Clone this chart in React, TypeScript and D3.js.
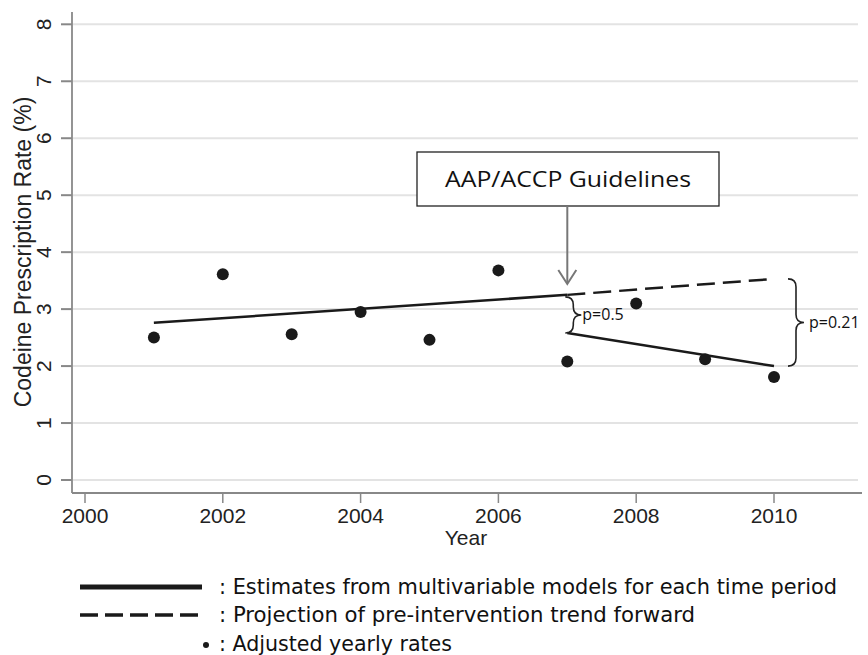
import React, { useEffect, useRef } from "react";
import * as d3 from "d3";

const years = [2001, 2002, 2003, 2004, 2005, 2006, 2007, 2008, 2009, 2010];
const yearlyRates = [2.5, 3.61, 2.56, 2.95, 2.46, 3.68, 2.08, 3.1, 2.12, 1.81];

// fitted segments: [year, rate]
const preTrend: [number, number][] = [
  [2001, 2.76],
  [2007, 3.25],
];
const projection: [number, number][] = [
  [2007, 3.25],
  [2010, 3.53],
];
const postTrend: [number, number][] = [
  [2007, 2.58],
  [2010, 2.0],
];

const xTicks = [2000, 2002, 2004, 2006, 2008, 2010];
const yTicks = [0, 1, 2, 3, 4, 5, 6, 7, 8];

const legendItems = [
  ": Estimates from multivariable models for each time period",
  ": Projection of pre-intervention trend forward",
  ": Adjusted yearly rates",
];
const legendWidths = [618, 476, 233];

const W = 868;
const H = 655;

const App: React.FC = () => {
  const ref = useRef<SVGSVGElement>(null);

  useEffect(() => {
    if (!ref.current) return;
    const svg = d3.select(ref.current);
    svg.selectAll("*").remove();

    const x = d3.scaleLinear().domain([2000, 2010]).range([85, 774]);
    const y = d3.scaleLinear().domain([0, 8]).range([480, 24.3]);
    const axisFont = "'Liberation Sans', Arial, sans-serif";
    const noteFont = "'Open Sans', 'Noto Sans', sans-serif";
    const legendFont = "'Liberation Sans Narrow', 'DejaVu Sans Condensed', sans-serif";

    svg.append("rect").attr("width", W).attr("height", H).attr("fill", "#fff");

    // gridlines
    svg
      .append("g")
      .selectAll("line")
      .data(yTicks)
      .enter()
      .append("line")
      .attr("x1", 73)
      .attr("x2", 858)
      .attr("y1", (d) => y(d))
      .attr("y2", (d) => y(d))
      .attr("stroke", "#e3e3e3")
      .attr("stroke-width", 2);

    // axes
    svg
      .append("line")
      .attr("x1", 72)
      .attr("x2", 72)
      .attr("y1", 12)
      .attr("y2", 493)
      .attr("stroke", "#888")
      .attr("stroke-width", 1.8);
    svg
      .append("line")
      .attr("x1", 72)
      .attr("x2", 862)
      .attr("y1", 493)
      .attr("y2", 493)
      .attr("stroke", "#888")
      .attr("stroke-width", 1.8);

    const yt = svg.append("g");
    yt.selectAll("line")
      .data(yTicks)
      .enter()
      .append("line")
      .attr("x1", 61)
      .attr("x2", 72)
      .attr("y1", (d) => y(d))
      .attr("y2", (d) => y(d))
      .attr("stroke", "#888")
      .attr("stroke-width", 2);
    yt.selectAll("text")
      .data(yTicks)
      .enter()
      .append("text")
      .attr("transform", (d) => `translate(51,${y(d)}) rotate(-90)`)
      .attr("text-anchor", "middle")
      .attr("font-family", axisFont)
      .attr("font-size", 21)
      .attr("fill", "#222")
      .text((d) => d);

    const xt = svg.append("g");
    xt.selectAll("line")
      .data(xTicks)
      .enter()
      .append("line")
      .attr("x1", (d) => x(d))
      .attr("x2", (d) => x(d))
      .attr("y1", 493)
      .attr("y2", 503)
      .attr("stroke", "#888")
      .attr("stroke-width", 1.5);
    xt.selectAll("text")
      .data(xTicks)
      .enter()
      .append("text")
      .attr("x", (d) => x(d))
      .attr("y", 523)
      .attr("text-anchor", "middle")
      .attr("font-family", axisFont)
      .attr("font-size", 21)
      .attr("fill", "#222")
      .text((d) => d);

    svg
      .append("text")
      .attr("x", 466)
      .attr("y", 545)
      .attr("text-anchor", "middle")
      .attr("font-family", axisFont)
      .attr("font-size", 21)
      .attr("fill", "#222")
      .text("Year");
    svg
      .append("text")
      .attr("transform", "translate(31,252) rotate(-90)")
      .attr("text-anchor", "middle")
      .attr("font-family", axisFont)
      .attr("font-size", 23)
      .attr("fill", "#222")
      .text("Codeine Prescription Rate (%)");

    // fitted lines
    const line = d3
      .line<[number, number]>()
      .x((d) => x(d[0]))
      .y((d) => y(d[1]));
    svg
      .append("path")
      .attr("d", line(preTrend))
      .attr("fill", "none")
      .attr("stroke", "#1a1a1a")
      .attr("stroke-width", 2.5);
    svg
      .append("path")
      .attr("d", line(projection))
      .attr("fill", "none")
      .attr("stroke", "#1a1a1a")
      .attr("stroke-width", 2.5)
      .attr("stroke-dasharray", "18,8");
    svg
      .append("path")
      .attr("d", line(postTrend))
      .attr("fill", "none")
      .attr("stroke", "#1a1a1a")
      .attr("stroke-width", 2.5);

    // yearly dots
    svg
      .append("g")
      .selectAll("circle")
      .data(years)
      .enter()
      .append("circle")
      .attr("cx", (d) => x(d))
      .attr("cy", (_, i) => y(yearlyRates[i]))
      .attr("r", 6)
      .attr("fill", "#1a1a1a");

    // annotation box and arrow
    const ax = x(2007);
    svg
      .append("rect")
      .attr("x", 417)
      .attr("y", 152)
      .attr("width", 302)
      .attr("height", 54)
      .attr("fill", "#fff")
      .attr("stroke", "#222")
      .attr("stroke-width", 1.3);
    svg
      .append("text")
      .attr("x", 445)
      .attr("y", 187)
      .attr("font-family", noteFont)
      .attr("font-size", 22)
      .attr("fill", "#111")
      .attr("textLength", 246)
      .attr("lengthAdjust", "spacingAndGlyphs")
      .text("AAP/ACCP Guidelines");
    svg
      .append("line")
      .attr("x1", ax)
      .attr("x2", ax)
      .attr("y1", 206)
      .attr("y2", 283)
      .attr("stroke", "#777")
      .attr("stroke-width", 2);
    svg
      .append("path")
      .attr("d", `M${ax - 9},${270} L${ax},${284} L${ax + 9},${270}`)
      .attr("fill", "none")
      .attr("stroke", "#777")
      .attr("stroke-width", 2);

    // braces
    const brace = (bx: number, y0: number, y1: number, w: number) => {
      const m = (y0 + y1) / 2;
      const r = w / 2;
      return `M${bx},${y0} Q${bx + r},${y0} ${bx + r},${y0 + r}
        L${bx + r},${m - r} Q${bx + r},${m} ${bx + w},${m}
        Q${bx + r},${m} ${bx + r},${m + r}
        L${bx + r},${y1 - r} Q${bx + r},${y1} ${bx},${y1}`;
    };
    const b1x = x(2007) - 2;
    svg
      .append("path")
      .attr("d", brace(b1x, y(projection[0][1]) + 2, y(postTrend[0][1]), 16))
      .attr("fill", "none")
      .attr("stroke", "#222")
      .attr("stroke-width", 1.6);
    svg
      .append("text")
      .attr("x", b1x + 17)
      .attr("y", (y(projection[0][1]) + y(postTrend[0][1])) / 2 + 6)
      .attr("font-family", noteFont)
      .attr("font-size", 16)
      .attr("fill", "#111")
      .text("p=0.5");
    const b2x = x(2010) + 14;
    svg
      .append("path")
      .attr("d", brace(b2x, y(projection[1][1]), y(postTrend[1][1]), 16))
      .attr("fill", "none")
      .attr("stroke", "#222")
      .attr("stroke-width", 1.6);
    svg
      .append("text")
      .attr("x", b2x + 21)
      .attr("y", (y(projection[1][1]) + y(postTrend[1][1])) / 2 + 6)
      .attr("font-family", noteFont)
      .attr("font-size", 16)
      .attr("fill", "#111")
      .text("p=0.21");

    // legend
    const lg = svg.append("g");
    const rows = [587, 615, 644];
    lg.append("line")
      .attr("x1", 80)
      .attr("x2", 202)
      .attr("y1", rows[0])
      .attr("y2", rows[0])
      .attr("stroke", "#1a1a1a")
      .attr("stroke-width", 5);
    lg.append("line")
      .attr("x1", 80)
      .attr("x2", 202)
      .attr("y1", rows[1])
      .attr("y2", rows[1])
      .attr("stroke", "#1a1a1a")
      .attr("stroke-width", 3.5)
      .attr("stroke-dasharray", "18,7");
    lg.append("circle")
      .attr("cx", 206)
      .attr("cy", rows[2] + 1)
      .attr("r", 3)
      .attr("fill", "#1a1a1a");
    lg.selectAll("text")
      .data(legendItems)
      .enter()
      .append("text")
      .attr("x", 219)
      .attr("y", (_, i) => rows[i] + 7)
      .attr("font-family", legendFont)
      .attr("font-size", 22)
      .attr("fill", "#111")
      .attr("textLength", (_, i) => legendWidths[i])
      .attr("lengthAdjust", "spacingAndGlyphs")
      .text((d) => d);
  }, []);

  return (
    <svg
      ref={ref}
      width={W}
      height={H}
      style={{ position: "absolute", left: 0, top: 0, display: "block" }}
    />
  );
};

export default App;
